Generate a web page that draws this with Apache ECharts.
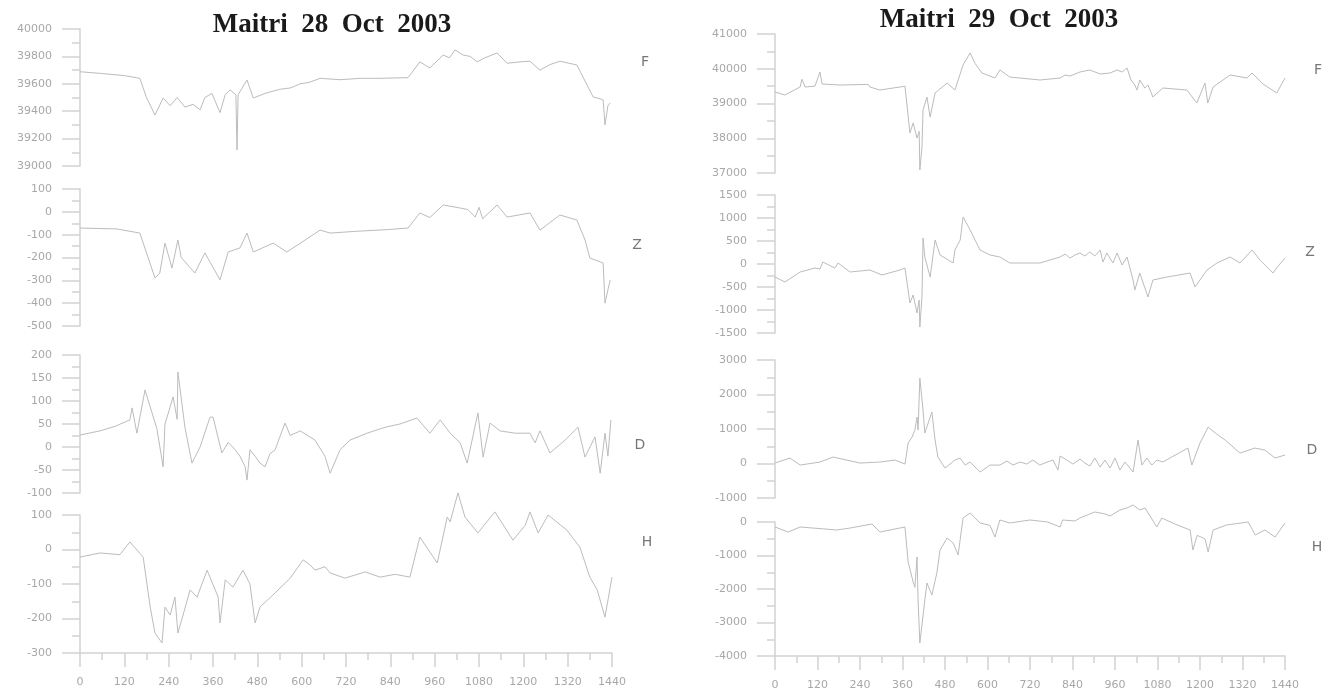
<!DOCTYPE html>
<html>
<head>
<meta charset="utf-8">
<script src="https://cdn.jsdelivr.net/npm/echarts@6/dist/echarts.min.js"></script>
<style>
  html, body { margin: 0; padding: 0; background: #fff; }
  #chart { width: 1325px; height: 692px; }
</style>
</head>
<body>
<div id="chart"></div>
<script>
// 28 Oct 2003  [minute of day, value]
const f28 = [[0,39688],[60,39675],[120,39660],[162,39640],[180,39500],[203,39372],[225,39496],[244,39440],[263,39500],[284,39430],[306,39450],[325,39410],[338,39500],[357,39530],[379,39390],[393,39520],[406,39555],[422,39520],[425,39117],[428,39520],[452,39628],[469,39496],[501,39530],[541,39560],[570,39570],[596,39600],[620,39610],[650,39640],[704,39630],[760,39640],[812,39640],[888,39645],[920,39760],[947,39715],[983,39810],[1000,39790],[1015,39847],[1037,39810],[1056,39800],[1075,39760],[1096,39790],[1129,39825],[1156,39750],[1191,39760],[1218,39765],[1245,39700],[1272,39740],[1299,39765],[1345,39737],[1367,39620],[1389,39504],[1408,39490],[1416,39482],[1421,39300],[1429,39440],[1435,39460]]
const z28 = [[0,-71],[100,-75],[162,-93],[203,-290],[216,-268],[230,-137],[249,-246],[265,-123],[274,-200],[311,-268],[338,-180],[379,-298],[401,-176],[433,-158],[452,-93],[469,-176],[523,-137],[560,-176],[650,-80],[677,-93],[750,-85],[830,-78],[888,-71],[920,-5],[947,-25],[983,30],[1015,21],[1050,10],[1070,-23],[1080,20],[1090,-30],[1129,30],[1156,-23],[1218,-5],[1245,-80],[1299,-14],[1345,-36],[1367,-123],[1380,-202],[1416,-224],[1421,-400],[1435,-298]]
const d28 = [[0,26],[54,35],[95,45],[135,59],[141,85],[154,30],[176,124],[208,40],[225,-43],[230,50],[244,87],[252,109],[263,60],[265,163],[284,43],[303,-35],[325,0],[352,65],[360,65],[384,-13],[401,10],[420,-6],[433,-20],[447,-43],[452,-72],[460,-6],[474,-20],[487,-35],[501,-43],[514,-15],[528,-6],[541,22],[555,52],[569,25],[596,35],[636,15],[663,-20],[677,-57],[704,-6],[731,15],[777,30],[826,43],[866,50],[912,63],[947,30],[975,59],[1002,30],[1029,9],[1048,-35],[1077,74],[1091,-22],[1110,52],[1137,35],[1178,30],[1218,30],[1232,9],[1245,35],[1272,-13],[1313,15],[1348,43],[1367,-22],[1394,22],[1408,-57],[1421,30],[1429,-20],[1437,59]]
const h28 = [[0,-22],[54,-10],[108,-15],[135,22],[171,-22],[190,-167],[203,-242],[222,-271],[230,-167],[244,-190],[257,-138],[265,-242],[279,-190],[298,-117],[317,-138],[344,-60],[374,-138],[379,-213],[393,-88],[414,-109],[441,-60],[460,-100],[474,-213],[487,-167],[528,-126],[569,-83],[604,-30],[623,-45],[636,-60],[663,-50],[677,-68],[717,-83],[772,-65],[812,-80],[853,-72],[893,-80],[920,36],[967,-39],[994,94],[1002,80],[1023,164],[1042,94],[1077,48],[1123,109],[1172,27],[1205,70],[1218,109],[1240,48],[1267,100],[1318,56],[1353,7],[1380,-80],[1400,-117],[1421,-196],[1440,-80]]

// 29 Oct 2003  [minute of day, value]
const f29 = [[0,39331],[28,39245],[71,39475],[76,39700],[85,39475],[113,39500],[127,39906],[133,39560],[184,39532],[263,39550],[268,39475],[296,39388],[353,39475],[367,39500],[381,38150],[390,38439],[401,38007],[407,38200],[409,37086],[415,37748],[418,38813],[429,39187],[438,38611],[452,39302],[486,39590],[508,39388],[531,40108],[551,40453],[565,40150],[584,39878],[621,39734],[635,39964],[663,39762],[748,39676],[805,39734],[819,39820],[833,39791],[861,39906],[889,39964],[918,39849],[946,39878],[966,39964],[980,39906],[994,40022],[1005,39676],[1016,39532],[1022,39388],[1030,39676],[1044,39446],[1053,39532],[1067,39187],[1095,39446],[1163,39388],[1191,39014],[1214,39590],[1222,39014],[1237,39475],[1285,39820],[1333,39734],[1347,39878],[1378,39560],[1417,39302],[1426,39475],[1440,39734]]
const z29 = [[0,-283],[28,-391],[71,-174],[113,-87],[127,-110],[135,43],[169,-87],[178,22],[212,-174],[268,-130],[302,-239],[353,-130],[367,-87],[381,-848],[390,-674],[401,-1065],[407,-783],[409,-1370],[415,-717],[418,565],[423,152],[438,-283],[452,522],[466,196],[503,22],[508,304],[523,522],[531,1022],[551,739],[579,304],[607,196],[635,152],[663,22],[748,22],[805,152],[819,217],[833,130],[847,196],[861,239],[875,174],[889,261],[903,174],[918,304],[926,43],[937,239],[954,22],[966,239],[980,-22],[994,152],[1011,-348],[1016,-565],[1030,-196],[1053,-717],[1067,-348],[1107,-283],[1172,-196],[1186,-500],[1220,-130],[1248,22],[1285,152],[1313,22],[1347,304],[1370,80],[1406,-196],[1420,-50],[1440,130]]
const d29 = [[0,13],[42,158],[71,-45],[127,42],[164,187],[240,13],[296,42],[339,100],[367,-16],[376,593],[387,767],[395,970],[401,1347],[404,970],[409,2478],[418,1550],[423,883],[443,1492],[452,680],[460,187],[480,-132],[508,100],[522,158],[537,-45],[551,42],[579,-248],[607,-45],[635,-45],[655,71],[672,-45],[692,42],[711,-16],[728,100],[748,-45],[768,42],[785,100],[799,-190],[805,216],[824,100],[841,-16],[861,129],[875,13],[889,-74],[903,158],[918,-103],[932,100],[946,-132],[960,158],[974,-190],[988,42],[1002,-132],[1011,-248],[1025,680],[1036,-45],[1050,158],[1064,-45],[1078,100],[1095,42],[1115,158],[1166,448],[1177,-45],[1200,593],[1223,1057],[1243,883],[1271,680],[1313,303],[1355,448],[1383,390],[1412,158],[1440,245]]
const h29 = [[0,-149],[37,-299],[71,-149],[175,-239],[212,-180],[274,-60],[296,-299],[367,-149],[376,-1194],[390,-1791],[395,-1950],[401,-1045],[404,-2328],[409,-3612],[423,-2328],[429,-1821],[443,-2179],[457,-1522],[466,-836],[486,-478],[503,-627],[517,-985],[531,119],[551,269],[579,-30],[607,-100],[621,-448],[635,60],[663,-30],[720,60],[770,0],[805,-150],[812,60],[847,30],[861,119],[889,240],[903,299],[932,240],[946,180],[974,358],[994,420],[1011,507],[1030,358],[1045,420],[1078,-149],[1092,119],[1129,-60],[1172,-239],[1180,-836],[1192,-400],[1214,-500],[1223,-896],[1237,-239],[1275,-90],[1336,0],[1356,-388],[1383,-239],[1412,-448],[1440,-30]]

// y ranges of each sub plot  [min, max, step]
const yRange28 = [[39000, 40000, 200], [-500, 100, 100], [-100, 200, 50], [-300, 100, 100]]
const yRange29 = [[37000, 41000, 1000], [-1500, 1500, 500], [-1000, 3000, 1000], [-4000, 0, 1000]]
const compNames = ['F', 'Z', 'D', 'H']

var chart = echarts.init(document.getElementById('chart'))

var axisGrey = '#d2d2d2'
var labelStyle = {
  color: '#a8a8a8',
  fontSize: 11,
  fontFamily: 'DejaVu Sans',
  formatter: function(v) { return String(v) }
}

// grid boxes of the two panels
var panels = [
  { left: 80, width: 532, tops: [29, 189, 355, 515], heights: [137, 137, 138, 138], ranges: yRange28, data: [f28, z28, d28, h28] },
  { left: 775, width: 510, tops: [34, 195, 360, 522], heights: [139, 138, 138, 134], ranges: yRange29, data: [f29, z29, d29, h29] }
]

var grid = [], xAxis = [], yAxis = [], series = []
panels.forEach(function(p) {
  for (var i = 0; i < 4; i++) {
    var idx = grid.length
    var last = i === 3
    grid.push({ left: p.left, width: p.width, top: p.tops[i], height: p.heights[i] })
    xAxis.push({
      type: 'value',
      gridIndex: idx,
      min: 0,
      max: 1440,
      interval: 120,
      show: last,
      axisLine: { onZero: false, lineStyle: { color: axisGrey, width: 1.5 } },
      axisTick: { show: true, length: 14, lineStyle: { color: axisGrey, width: 1.5 } },
      minorTick: { show: true, splitNumber: 2, length: 7, lineStyle: { color: axisGrey, width: 1.5 } },
      axisLabel: Object.assign({ margin: 24, showMinLabel: true, showMaxLabel: true }, labelStyle),
      splitLine: { show: false }
    })
    var r = p.ranges[i]
    yAxis.push({
      type: 'value',
      gridIndex: idx,
      min: r[0],
      max: r[1],
      interval: r[2],
      axisLine: { show: true, onZero: false, lineStyle: { color: axisGrey, width: 1.5 } },
      axisTick: { show: true, length: 18, lineStyle: { color: axisGrey, width: 1.5 } },
      minorTick: { show: true, splitNumber: 2, length: 8, lineStyle: { color: axisGrey, width: 1.5 } },
      axisLabel: Object.assign({ margin: 28 }, labelStyle),
      splitLine: { show: false }
    })
    series.push({
      name: compNames[i],
      type: 'line',
      xAxisIndex: idx,
      yAxisIndex: idx,
      data: p.data[i],
      showSymbol: false,
      clip: false,
      lineStyle: { color: '#bcbcbc', width: 1 },
      animation: false
    })
  }
})

// component letters on the right of each sub plot
var letterPos = [[645, 62], [637, 245], [640, 445], [647, 542], [1318, 70], [1310, 252], [1312, 450], [1317, 547]]
var graphic = letterPos.map(function(pos, k) {
  return {
    type: 'text',
    x: pos[0],
    y: pos[1],
    style: { text: compNames[k % 4], fill: '#777', fontSize: 14, fontFamily: 'DejaVu Sans', align: 'center', verticalAlign: 'middle' }
  }
})

var option = {
  backgroundColor: '#fff',
  animation: false,
  title: [
    { text: 'Maitri  28  Oct  2003', left: 327, top: 7, textAlign: 'center',
      textStyle: { fontFamily: 'Liberation Serif', fontWeight: 'bold', fontSize: 27, color: '#1a1a1a' } },
    { text: 'Maitri  29  Oct  2003', left: 994, top: 2, textAlign: 'center',
      textStyle: { fontFamily: 'Liberation Serif', fontWeight: 'bold', fontSize: 27, color: '#1a1a1a' } }
  ],
  grid: grid,
  xAxis: xAxis,
  yAxis: yAxis,
  series: series,
  graphic: graphic
}

chart.setOption(option)
</script>
</body>
</html>
